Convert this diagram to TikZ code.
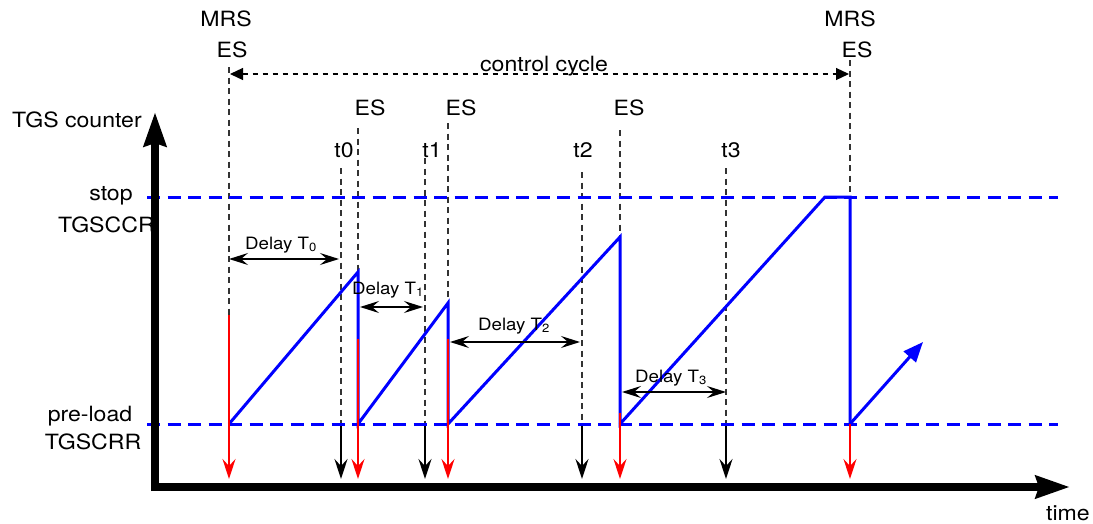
\documentclass[tikz,border=0pt]{standalone}
\usepackage{fontspec}
\setmainfont[FakeStretch=1.1]{TeX Gyre Heros}
\usetikzlibrary{arrows.meta,positioning}

\begin{document}
\begin{tikzpicture}[x=1pt,y=-1pt,
    every node/.style={font=\fontsize{21}{24}\selectfont, inner sep=0pt, anchor=base},
    delaylabel/.style={font=\fontsize{17}{20}\selectfont},
    guide/.style={black!80, line width=1.2pt, dash pattern=on 6pt off 4.5pt},
    level/.style={blue, line width=3pt, dash pattern=on 13pt off 7.5pt},
    ramp/.style={blue, line width=3pt},
    event/.style={red, line width=2.3pt, -{Stealth[length=20pt,width=13pt,inset=7pt]}},
    sample/.style={black, line width=2.5pt, -{Stealth[length=20pt,width=13pt,inset=7pt]}},
    delay/.style={black, line width=1.3pt, {Stealth[length=19pt,width=12pt,inset=7pt]}-{Stealth[length=19pt,width=12pt,inset=7pt]}},
    axis/.style={line width=8pt, -{Stealth[length=34pt,width=22pt,inset=3pt]}}]
  \useasboundingbox (0,0) rectangle (1093,523);

  % event instants: MRS/ES and ES
  \foreach \ev/\xev/\ytop in {m0/229/67, e1/358/128, e2/448/123, e3/620/130, m1/850/60} {
    \coordinate (\ev-top) at (\xev,\ytop);
    \coordinate (\ev-stop) at (\xev,197);
    \coordinate (\ev-pre) at (\xev,424);
    \coordinate (\ev-hit) at (\xev,479);
  }
  % sample instants t0..t3
  \foreach \ev/\xev/\ytop in {t0/341/168, t1/425/158, t2/582/172, t3/726/168} {
    \coordinate (\ev-top) at (\xev,\ytop);
    \coordinate (\ev-pre) at (\xev,424);
    \coordinate (\ev-hit) at (\xev,479);
    \draw[guide] (\ev-top) -- (\ev-pre);
    \draw[sample] (\ev-pre) -- (\ev-hit);
  }
  \coordinate (e1-peak) at (358,272);
  \coordinate (e2-peak) at (448,303);
  \coordinate (e3-peak) at (620,237);
  \coordinate (m1-knee) at (825,197);
  \coordinate (next) at (923,342);

  % vertical guides
  \draw[guide] (m0-top) -- (m0-pre);
  \draw[guide] (e1-top) -- (e1-peak);
  \draw[guide] (e2-top) -- (e2-peak);
  \draw[guide] (e3-top) -- (e3-peak);
  \draw[guide] (m1-top) -- (m1-stop);

  % stop / pre-load levels
  \coordinate (stop-left) at (147,197);
  \coordinate (stop-right) at (1058,197);
  \coordinate (pre-left) at (147,424);
  \coordinate (pre-right) at (1058,424);
  \draw[level] (stop-left) -- (stop-right);
  \draw[level] (pre-left) -- (pre-right);

  % counter
  \draw[ramp] (m0-pre) -- (e1-peak) -- (e1-pre) -- (e2-peak) -- (e2-pre)
    -- (e3-peak) -- (e3-pre) -- (m1-knee) -- (m1-stop) -- (m1-pre);
  \draw[ramp, -{Triangle[length=20pt,width=16pt]}] (m1-pre) -- (next);

  % events
  \coordinate (m0-red) at (229,315);
  \coordinate (e1-red) at (358,339);
  \coordinate (e2-red) at (448,339);
  \coordinate (e3-red) at (620,413);
  \draw[event] (m0-red) -- (m0-hit);
  \draw[event] (e1-red) -- (e1-hit);
  \draw[event] (e2-red) -- (e2-hit);
  \draw[event] (e3-red) -- (e3-hit);
  \draw[event] (m1-pre) -- (m1-hit);

  % labels
  \node (counter) at (77,127) {TGS counter};
  \node (stop) at (111,200) {stop};
  \node[anchor=base west] (tgsccr) at (58,232) {TGSCCR};
  \node (preload) at (90,421) {pre-load};
  \node (tgscrr) at (93,449) {TGSCRR};
  \node (mrs0) at (226,26) {MRS};
  \node (es0) at (232,57) {ES};
  \node (mrs1) at (850,26) {MRS};
  \node (es1) at (857,57) {ES};
  \node (es-e1) at (370,115) {ES};
  \node (es-e2) at (461,115) {ES};
  \node (es-e3) at (629,115) {ES};
  \node (lab-t0) at (344,157) {t0};
  \node (lab-t1) at (432,157) {t1};
  \node (lab-t2) at (583,157) {t2};
  \node (lab-t3) at (731,157) {t3};
  \node (cycle) at (544,71) {control cycle};
  \node (time) at (1068,520) {time};

  % control cycle
  \coordinate (cycle-left) at (230,74);
  \coordinate (cycle-right) at (849,74);
  \draw[line width=1.2pt, dash pattern=on 5pt off 5pt, {Triangle[length=13pt,width=12pt]}-{Triangle[length=13pt,width=12pt]}] (cycle-left) -- (cycle-right);

  % delays
  \node[delaylabel] (d0) at (281,249) {Delay T\textsubscript{0}};
  \node[delaylabel] (d1) at (388,294) {Delay T\textsubscript{1}};
  \node[delaylabel] (d2) at (514,330) {Delay T\textsubscript{2}};
  \node[delaylabel] (d3) at (671,382) {Delay T\textsubscript{3}};
  \coordinate (d0-a) at (229,259);
  \coordinate (d0-b) at (339,259);
  \coordinate (d1-a) at (360,307);
  \coordinate (d1-b) at (423,307);
  \coordinate (d2-a) at (450,342);
  \coordinate (d2-b) at (580,342);
  \coordinate (d3-a) at (622,392);
  \coordinate (d3-b) at (726,392);
  \draw[delay] (d0-a) -- (d0-b);
  \draw[delay] (d1-a) -- (d1-b);
  \draw[delay] (d2-a) -- (d2-b);
  \draw[delay] (d3-a) -- (d3-b);

  % axes
  \coordinate (origin) at (155,491);
  \coordinate (ytip) at (155,112);
  \coordinate (xstart) at (151,487);
  \coordinate (xtip) at (1070,487);
  \draw[axis] (origin) -- (ytip);
  \draw[axis] (xstart) -- (xtip);
\end{tikzpicture}
\end{document}
